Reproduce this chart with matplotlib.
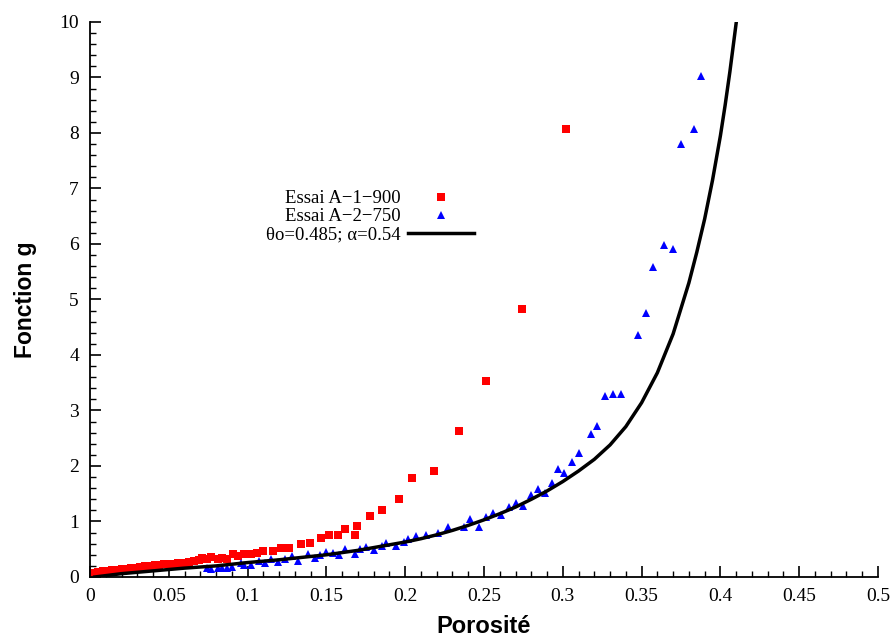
#!/usr/bin/env python3
"""
Fonction g vs porosite - essais A-1-900 / A-2-750 + modele
"""

import matplotlib
matplotlib.use("Agg")
import matplotlib.pyplot as plt
from matplotlib.ticker import MultipleLocator, FuncFormatter

# ==================== DATA ====================
# Essai A-1-900 (red squares)
poro_a1 = [0.002, 0.005, 0.008, 0.011, 0.014, 0.017, 0.020, 0.023, 0.026, 0.029,
           0.032, 0.035, 0.038, 0.041, 0.044, 0.047, 0.050, 0.053, 0.056, 0.060,
           0.063, 0.066, 0.069, 0.071, 0.074, 0.077, 0.081, 0.084, 0.087, 0.091,
           0.094, 0.098, 0.102, 0.106, 0.110, 0.116, 0.121, 0.126, 0.134, 0.1396,
           0.1466, 0.1517, 0.1574, 0.1618, 0.168, 0.1694, 0.1777, 0.185, 0.196,
           0.204, 0.218, 0.234, 0.251, 0.274, 0.302]
g_a1 = [0.07, 0.09, 0.10, 0.11, 0.12, 0.13, 0.14, 0.15, 0.16, 0.17,
        0.18, 0.19, 0.20, 0.21, 0.22, 0.23, 0.24, 0.24, 0.25, 0.26,
        0.27, 0.29, 0.30, 0.34, 0.32, 0.36, 0.32, 0.34, 0.32, 0.41,
        0.38, 0.41, 0.41, 0.43, 0.47, 0.47, 0.52, 0.52, 0.59, 0.61,
        0.70, 0.76, 0.76, 0.86, 0.76, 0.92, 1.10, 1.21, 1.41,
        1.78, 1.91, 2.63, 3.53, 4.83, 8.07]

# Essai A-2-750 (blue triangles)
poro_a2 = [0.074, 0.077, 0.081, 0.084, 0.087, 0.090, 0.096, 0.098, 0.102, 0.107,
           0.111, 0.115, 0.119, 0.124, 0.128, 0.132, 0.138, 0.143, 0.146, 0.150,
           0.154, 0.158, 0.162, 0.168, 0.171, 0.175, 0.180, 0.185, 0.188, 0.194,
           0.199, 0.202, 0.207, 0.213, 0.221, 0.227, 0.237, 0.241, 0.247, 0.251,
           0.256, 0.261, 0.266, 0.270, 0.275, 0.280, 0.284, 0.289, 0.293, 0.297,
           0.301, 0.306, 0.310, 0.318, 0.322, 0.327, 0.332, 0.337, 0.348, 0.353,
           0.357, 0.364, 0.370, 0.375, 0.383, 0.388]
g_a2 = [0.16, 0.14, 0.16, 0.16, 0.16, 0.18, 0.25, 0.22, 0.22, 0.29,
        0.25, 0.32, 0.27, 0.32, 0.38, 0.29, 0.41, 0.34, 0.40, 0.45,
        0.43, 0.40, 0.50, 0.41, 0.50, 0.54, 0.49, 0.56, 0.61, 0.56,
        0.63, 0.68, 0.74, 0.76, 0.79, 0.90, 0.90, 1.04, 0.90, 1.08,
        1.15, 1.12, 1.26, 1.33, 1.28, 1.48, 1.59, 1.51, 1.69, 1.95,
        1.87, 2.07, 2.23, 2.58, 2.72, 3.26, 3.30, 3.30, 4.36, 4.76,
        5.59, 5.98, 5.91, 7.80, 8.07, 9.03]

# Modele theta_o=0.485 ; alpha=0.54
poro_model = [0.003, 0.02, 0.04, 0.06, 0.08, 0.10, 0.12, 0.14, 0.15, 0.16,
              0.17, 0.18, 0.19, 0.20, 0.21, 0.22, 0.23, 0.24, 0.25, 0.26,
              0.27, 0.28, 0.29, 0.30, 0.31, 0.32, 0.33, 0.34, 0.35, 0.36,
              0.37, 0.38, 0.385, 0.39, 0.395, 0.40, 0.403, 0.406, 0.4085, 0.411]
g_model = [0.0, 0.06, 0.11, 0.16, 0.20, 0.26, 0.31, 0.37, 0.40, 0.44,
           0.48, 0.53, 0.58, 0.63, 0.69, 0.76, 0.84, 0.93, 1.03, 1.14,
           1.26, 1.40, 1.55, 1.72, 1.91, 2.12, 2.38, 2.71, 3.14, 3.68,
           4.38, 5.30, 5.85, 6.45, 7.15, 7.95, 8.50, 9.10, 9.65, 10.2]

# ==================== PLOT ====================
plt.rcParams['font.family'] = ['Liberation Serif', 'DejaVu Serif']

fig = plt.figure(figsize=(8.95, 6.37), dpi=100)
ax = fig.add_axes([0.1006, 0.0942, 0.8804, 0.8713])

ax.plot(poro_a1, g_a1, 's', color='#ff0000', markersize=6, markeredgewidth=0,
        label="Essai A\u22121\u2212900", zorder=2)
ax.plot(poro_a2, g_a2, '^', color='#0000ff', markersize=6, markeredgewidth=0,
        label="Essai A\u22122\u2212750", zorder=2)
ax.plot(poro_model, g_model, '-', color='black', linewidth=2.5,
        label="\u03b8o=0.485; \u03b1=0.54", zorder=3)

ax.set_xlim(0, 0.5)
ax.set_ylim(0, 10)

ax.spines['top'].set_visible(False)
ax.spines['right'].set_visible(False)
ax.spines['left'].set_linewidth(1.3)
ax.spines['bottom'].set_linewidth(1.3)

ax.xaxis.set_major_locator(MultipleLocator(0.05))
ax.xaxis.set_minor_locator(MultipleLocator(0.01))
ax.yaxis.set_major_locator(MultipleLocator(1))
ax.yaxis.set_minor_locator(MultipleLocator(0.2))
ax.xaxis.set_major_formatter(FuncFormatter(lambda v, p: f"{v:g}"))
ax.yaxis.set_major_formatter(FuncFormatter(lambda v, p: f"{v:g}"))
ax.tick_params(which='major', direction='in', length=8, width=1.2, labelsize=14, pad=8)
ax.tick_params(which='minor', direction='in', length=4, width=1.0)

ax.set_xlabel("Porosité", fontsize=17, fontweight='bold', family='Liberation Sans', labelpad=7)
ax.set_ylabel("Fonction g", fontsize=16.5, fontweight='bold', family='Liberation Sans', labelpad=16)

ax.legend(loc='center', bbox_to_anchor=(0.355, 0.649), frameon=False, markerfirst=False,
          fontsize=13.5, handlelength=3.5, handletextpad=0.4, labelspacing=0.05,
          borderpad=0)

fig.savefig("out.png", dpi=100)
